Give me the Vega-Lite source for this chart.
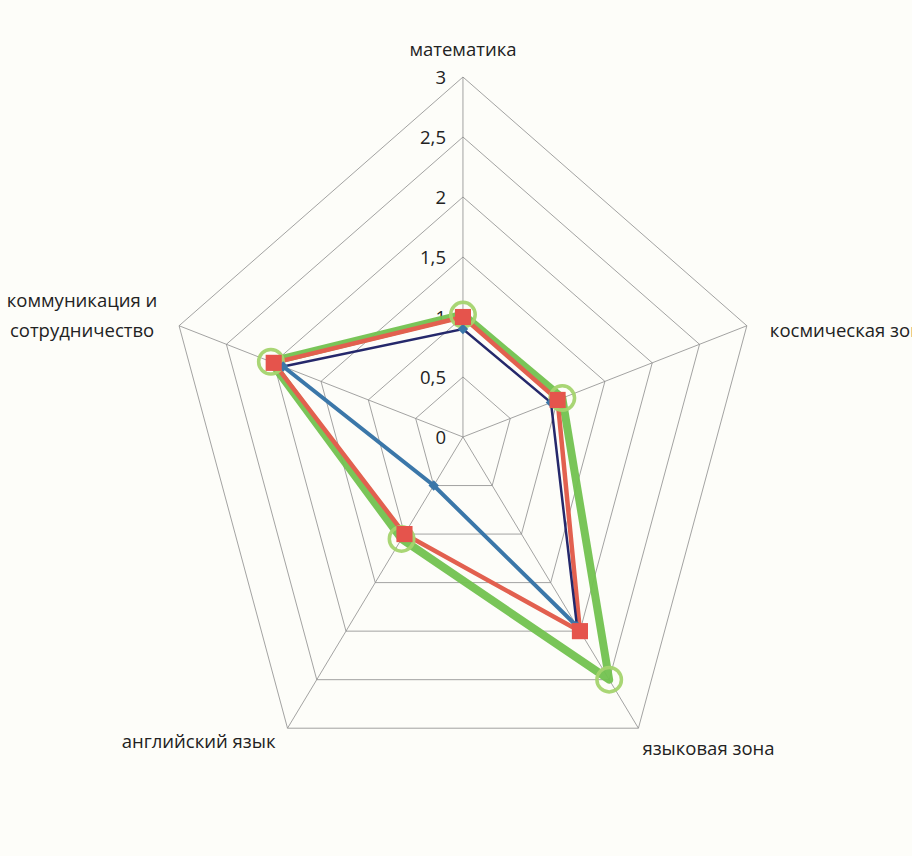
{
  "$schema": "https://vega.github.io/schema/vega-lite/v6.json",
  "width": 912,
  "height": 856,
  "padding": 0,
  "autosize": {"type": "none"},
  "background": "#fdfdf9",
  "config": {"view": {"stroke": null}, "font": "Open Sans"},
  "datasets": {
    "series": [
      {"series": "Ряд1", "axis": "математика", "idx": 0, "value": 0.9},
      {"series": "Ряд1", "axis": "космическая зона", "idx": 1, "value": 0.93},
      {"series": "Ряд1", "axis": "языковая зона", "idx": 2, "value": 1.95},
      {"series": "Ряд1", "axis": "английский язык", "idx": 3, "value": 0.5},
      {"series": "Ряд1", "axis": "коммуникация и сотрудничество", "idx": 4, "value": 1.9},
      {"series": "Ряд2", "axis": "математика", "idx": 0, "value": 1.0},
      {"series": "Ряд2", "axis": "космическая зона", "idx": 1, "value": 1.0},
      {"series": "Ряд2", "axis": "языковая зона", "idx": 2, "value": 2.0},
      {"series": "Ряд2", "axis": "английский язык", "idx": 3, "value": 1.0},
      {"series": "Ряд2", "axis": "коммуникация и сотрудничество", "idx": 4, "value": 2.0},
      {"series": "Ряд3", "axis": "математика", "idx": 0, "value": 1.02},
      {"series": "Ряд3", "axis": "космическая зона", "idx": 1, "value": 1.05},
      {"series": "Ряд3", "axis": "языковая зона", "idx": 2, "value": 2.5},
      {"series": "Ряд3", "axis": "английский язык", "idx": 3, "value": 1.05},
      {"series": "Ряд3", "axis": "коммуникация и сотрудничество", "idx": 4, "value": 2.03}
    ],
    "grid": [
      {"level": 0.5, "idx": 0}, {"level": 0.5, "idx": 1}, {"level": 0.5, "idx": 2}, {"level": 0.5, "idx": 3}, {"level": 0.5, "idx": 4},
      {"level": 1, "idx": 0}, {"level": 1, "idx": 1}, {"level": 1, "idx": 2}, {"level": 1, "idx": 3}, {"level": 1, "idx": 4},
      {"level": 1.5, "idx": 0}, {"level": 1.5, "idx": 1}, {"level": 1.5, "idx": 2}, {"level": 1.5, "idx": 3}, {"level": 1.5, "idx": 4},
      {"level": 2, "idx": 0}, {"level": 2, "idx": 1}, {"level": 2, "idx": 2}, {"level": 2, "idx": 3}, {"level": 2, "idx": 4},
      {"level": 2.5, "idx": 0}, {"level": 2.5, "idx": 1}, {"level": 2.5, "idx": 2}, {"level": 2.5, "idx": 3}, {"level": 2.5, "idx": 4},
      {"level": 3, "idx": 0}, {"level": 3, "idx": 1}, {"level": 3, "idx": 2}, {"level": 3, "idx": 3}, {"level": 3, "idx": 4}
    ],
    "ticks": [
      {"level": 0, "label": "0"},
      {"level": 0.5, "label": "0,5"},
      {"level": 1, "label": "1"},
      {"level": 1.5, "label": "1,5"},
      {"level": 2, "label": "2"},
      {"level": 2.5, "label": "2,5"},
      {"level": 3, "label": "3"}
    ],
    "axes": [
      {"idx": 0, "label": "математика"},
      {"idx": 1, "label": "космическая зона"},
      {"idx": 2, "label": "языковая зона"},
      {"idx": 3, "label": "английский язык"},
      {"idx": 4, "label": "коммуникация и\nсотрудничество"}
    ]
  },
  "data": {"name": "series"},
  "transform": [
    {"calculate": "PI/2 - datum.idx*2*PI/5", "as": "angle"},
    {"calculate": "datum.value*cos(datum.angle)", "as": "px"},
    {"calculate": "datum.value*sin(datum.angle)", "as": "py"},
    {"calculate": "(datum.idx+1)%5", "as": "ord"}
  ],
  "encoding": {
    "x": {"field": "px", "type": "quantitative", "scale": {"domain": [-4.653, 4.513], "nice": false, "zero": false}, "axis": null},
    "y": {"field": "py", "type": "quantitative", "scale": {"domain": [-3.492, 3.642], "nice": false, "zero": false}, "axis": null}
  },
  "layer": [
    {
      "data": {"name": "grid"},
      "transform": [
        {"calculate": "PI/2 - datum.idx*2*PI/5", "as": "angle"},
        {"calculate": "datum.level*cos(datum.angle)", "as": "px"},
        {"calculate": "datum.level*sin(datum.angle)", "as": "py"}
      ],
      "mark": {"type": "line", "interpolate": "linear-closed", "stroke": "#8c8c8c", "strokeWidth": 0.8},
      "encoding": {"detail": {"field": "level"}, "order": {"field": "idx"}}
    },
    {
      "data": {"name": "axes"},
      "transform": [
        {"calculate": "PI/2 - datum.idx*2*PI/5", "as": "angle"},
        {"calculate": "3*cos(datum.angle)", "as": "px"},
        {"calculate": "3*sin(datum.angle)", "as": "py"}
      ],
      "mark": {"type": "rule", "stroke": "#8c8c8c", "strokeWidth": 0.8},
      "encoding": {"x2": {"datum": 0}, "y2": {"datum": 0}}
    },
    {
      "data": {"name": "ticks"},
      "transform": [
        {"calculate": "0", "as": "px"},
        {"calculate": "datum.level", "as": "py"}
      ],
      "mark": {"type": "text", "align": "right", "baseline": "middle", "dx": -17, "dy": 1, "fontSize": 18.5, "color": "#222"},
      "encoding": {"text": {"field": "label"}}
    },
    {
      "data": {"name": "axes"},
      "transform": [
        {"filter": "datum.idx == 0"},
        {"calculate": "0", "as": "px"}, {"calculate": "3", "as": "py"}
      ],
      "mark": {"type": "text", "align": "center", "baseline": "middle", "dy": -27, "fontSize": 18.5, "color": "#222"},
      "encoding": {"text": {"field": "label"}}
    },
    {
      "data": {"name": "axes"},
      "transform": [
        {"filter": "datum.idx == 1"},
        {"calculate": "3*cos(PI/2 - 2*PI/5)", "as": "px"}, {"calculate": "3*sin(PI/2 - 2*PI/5)", "as": "py"}
      ],
      "mark": {"type": "text", "align": "left", "baseline": "middle", "dx": 23, "dy": 5, "fontSize": 18.5, "color": "#222"},
      "encoding": {"text": {"field": "label"}}
    },
    {
      "data": {"name": "axes"},
      "transform": [
        {"filter": "datum.idx == 2"},
        {"calculate": "3*cos(PI/2 - 4*PI/5)", "as": "px"}, {"calculate": "3*sin(PI/2 - 4*PI/5)", "as": "py"}
      ],
      "mark": {"type": "text", "align": "left", "baseline": "middle", "dx": 4, "dy": 21, "fontSize": 18.5, "color": "#222"},
      "encoding": {"text": {"field": "label"}}
    },
    {
      "data": {"name": "axes"},
      "transform": [
        {"filter": "datum.idx == 3"},
        {"calculate": "3*cos(PI/2 - 6*PI/5)", "as": "px"}, {"calculate": "3*sin(PI/2 - 6*PI/5)", "as": "py"}
      ],
      "mark": {"type": "text", "align": "right", "baseline": "middle", "dx": -12, "dy": 14, "fontSize": 18.5, "color": "#222"},
      "encoding": {"text": {"field": "label"}}
    },
    {
      "data": {"name": "axes"},
      "transform": [
        {"filter": "datum.idx == 4"},
        {"calculate": "3*cos(PI/2 - 8*PI/5)", "as": "px"}, {"calculate": "3*sin(PI/2 - 8*PI/5)", "as": "py"}
      ],
      "mark": {"type": "text", "align": "center", "baseline": "middle", "dx": -97, "dy": -25, "lineBreak": "\n", "lineHeight": 30, "fontSize": 18.5, "color": "#222"},
      "encoding": {"text": {"field": "label"}}
    },
    {
      "transform": [{"filter": "datum.series == 'Ряд3'"}],
      "mark": {"type": "line", "interpolate": "linear-closed", "stroke": "#72c24f", "strokeWidth": 8, "strokeJoin": "round", "opacity": 0.95},
      "encoding": {"order": {"field": "idx"}}
    },
    {
      "transform": [{"filter": "datum.series == 'Ряд2'"}],
      "mark": {"type": "line", "interpolate": "linear-closed", "stroke": "#e2604f", "strokeWidth": 4.5},
      "encoding": {"order": {"field": "idx"}}
    },
    {
      "transform": [{"filter": "datum.series == 'Ряд1' && datum.idx != 3"}],
      "mark": {"type": "line", "stroke": "#25286b", "strokeWidth": 2.5},
      "encoding": {"order": {"field": "ord"}}
    },
    {
      "transform": [{"filter": "datum.series == 'Ряд1' && datum.idx >= 2"}],
      "mark": {"type": "line", "stroke": "#3b77a9", "strokeWidth": 4},
      "encoding": {"order": {"field": "idx"}}
    },
    {
      "transform": [{"filter": "datum.series == 'Ряд3'"}],
      "mark": {"type": "point", "shape": "circle", "filled": false, "size": 600, "stroke": "#a5d46e", "strokeWidth": 3.5, "opacity": 0.95},
      "encoding": {}
    },
    {
      "transform": [{"filter": "datum.series == 'Ряд1'"}],
      "mark": {"type": "point", "shape": "diamond", "filled": true, "size": 110, "color": "#3b77a9", "opacity": 1},
      "encoding": {}
    },
    {
      "transform": [{"filter": "datum.series == 'Ряд2'"}],
      "mark": {"type": "point", "shape": "square", "filled": true, "size": 260, "color": "#e5544c", "opacity": 1},
      "encoding": {}
    }
  ]
}
